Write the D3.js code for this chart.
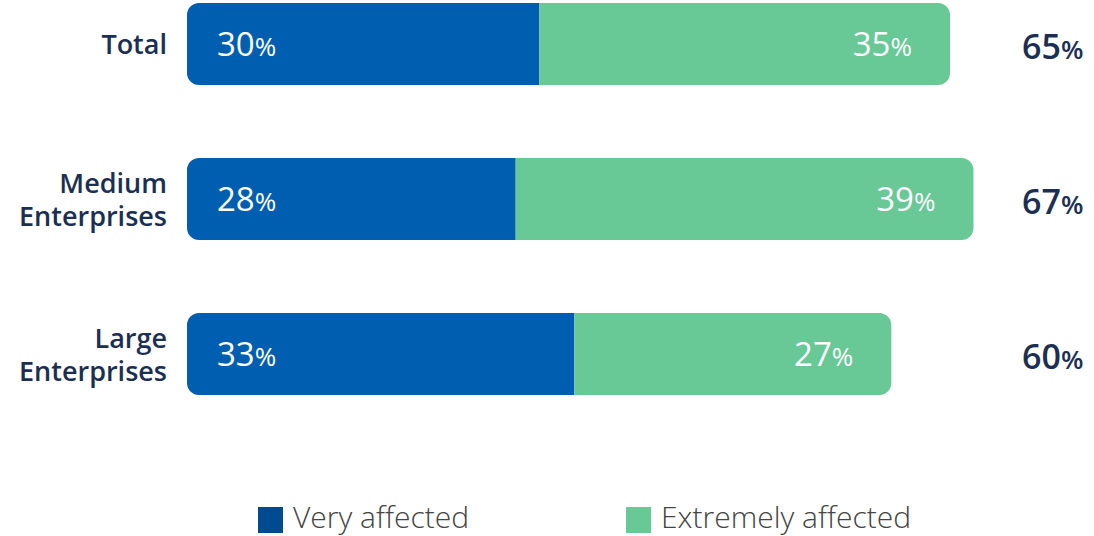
<!DOCTYPE html>
<html><head><meta charset="utf-8">
<script src="https://cdn.jsdelivr.net/npm/d3@7"></script>
<style>
html,body{margin:0;padding:0;background:#fff;}
svg{display:block;font-family:"Open Sans","Noto Sans",sans-serif;}
</style></head>
<body>
<svg id="chart" width="1094" height="536"></svg>
<script>
const categories = [["Total"], ["Medium", "Enterprises"], ["Large", "Enterprises"]];
const veryAffected = [30, 28, 33];
const extremelyAffected = [35, 39, 27];
const totals = [65, 67, 60];
const seriesNames = ["Very affected", "Extremely affected"];
const colors = ["#005EB0", "#68C896"];
const legendColors = ["#004A8F", "#68C896"];

const svg = d3.select("#chart");
const x = d3.scaleLinear().domain([0, 65]).range([187, 950]);
const y = d3.scaleBand().domain(d3.range(categories.length)).range([3, 395]).paddingInner(0.471).paddingOuter(0);
const bh = y.bandwidth();
const r = 12;

function roundedPath(x0, x1, y0, h, left, right) {
  const p = d3.path();
  const rl = left ? r : 0, rr = right ? r : 0;
  p.moveTo(x0 + rl, y0);
  p.lineTo(x1 - rr, y0);
  if (rr) p.arcTo(x1, y0, x1, y0 + rr, rr);
  p.lineTo(x1, y0 + h - rr);
  if (rr) p.arcTo(x1, y0 + h, x1 - rr, y0 + h, rr);
  p.lineTo(x0 + rl, y0 + h);
  if (rl) p.arcTo(x0, y0 + h, x0, y0 + h - rl, rl);
  p.lineTo(x0, y0 + rl);
  if (rl) p.arcTo(x0, y0, x0 + rl, y0, rl);
  p.closePath();
  return p.toString();
}

function pctText(sel, v, big, small) {
  sel.append("tspan").attr("font-size", big).text(v);
  sel.append("tspan").attr("font-size", small).text("%");
}

categories.forEach((cat, i) => {
  const y0 = y(i), cy = y0 + bh / 2;
  const a = veryAffected[i], b = extremelyAffected[i];
  svg.append("path").attr("d", roundedPath(x(0), x(a), y0, bh, true, false)).attr("fill", colors[0]);
  svg.append("path").attr("d", roundedPath(x(a), x(a + b), y0, bh, false, true)).attr("fill", colors[1]);

  // category label
  const t = svg.append("text").attr("text-anchor", "end")
    .attr("fill", "#1B2F54").attr("font-size", 27).attr("font-weight", 600);
  const n = cat.length;
  cat.forEach((line, k) => {
    t.append("tspan").attr("x", 167)
      .attr("y", cy + 10 + (k - (n - 1) / 2) * 33).text(line);
  });

  // value labels
  const t1 = svg.append("text").attr("x", x(0) + 30).attr("y", cy + 12).attr("fill", "#fff");
  pctText(t1, a, 33, 26);
  const t2 = svg.append("text").attr("x", x(a + b) - 38).attr("y", cy + 12)
    .attr("fill", "#fff").attr("text-anchor", "end");
  pctText(t2, b, 33, 26);
  const t3 = svg.append("text").attr("x", 1022).attr("y", cy + 15).attr("fill", "#1B2F54").attr("font-weight", 600);
  pctText(t3, totals[i], 34, 26);
});

// legend
const legendX = [258, 626];
seriesNames.forEach((name, i) => {
  svg.append("rect").attr("x", legendX[i]).attr("y", 507).attr("width", 25).attr("height", 26).attr("fill", legendColors[i]);
  svg.append("text").attr("x", legendX[i] + 35).attr("y", 528).attr("font-size", 30)
    .attr("font-weight", 300).attr("fill", "#444").text(name);
});
</script>
</body></html>
